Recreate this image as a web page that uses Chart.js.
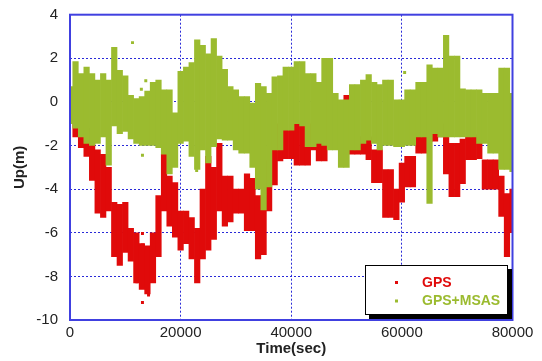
<!DOCTYPE html>
<html>
<head>
<meta charset="utf-8">
<script src="https://cdn.jsdelivr.net/npm/chart.js@4/dist/chart.umd.min.js"></script>
<style>
  html, body { margin: 0; padding: 0; background: #fff; }
  #wrap { width: 542px; height: 361px; }
</style>
</head>
<body>
<div id="wrap"><canvas id="upChart"></canvas></div>
<script>
/* ===== Up error, GPS vs GPS+MSAS ===== */
const STEP = 1000;   // sec between envelope samples (index * STEP)

// GPS+MSAS, spread of the points in each 1000 s slot (m)
const msasHigh = [0.7, 1.85, 1.3, 1.6, 1.3, 1.0, 1.3, 1.0, 2.5, 1.45,
  1.2, 0.3, 0.15, 0.25, 0.5, 0.9, 1.0, 0.55, 0.55, -0.5,
  1.4, 1.6, 1.8, 2.85, 2.6, 2.2, 2.9, 2.1, 1.5, 0.7,
  0.55, 0.25, 0.25, -0.05, 0.85, 0.7, 0.4, 1.15, 1.2, 1.6,
  1.6, 1.85, 1.85, 1.3, 1.3, 0.9, 2.0, 2.0, 0.4, 0.1,
  0.1, 0.8, 0.8, 1.0, 1.25, 0.9, 0.8, 1.0, 1.0, 0.1,
  0.1, 0.55, 0.55, 0.9, 0.9, 1.7, 1.55, 1.55, 3.05, 2.1,
  2.1, 0.6, 0.55, 0.55, 0.55, 0.4, 0.4, 0.4, 1.55, 1.55,
  0.4];
const msasLow = [-1.0, -1.2, -1.6, -1.9, -2.0, -1.9, -1.6, -2.9, -1.1, -1.45,
  -1.35, -1.7, -1.9, -2.0, -2.0, -2.0, -2.1, -2.4, -3.3, -3.0,
  -1.9, -1.8, -2.5, -3.1, -2.2, -2.8, -2.05, -1.7, -1.75, -1.75,
  -2.2, -2.35, -2.35, -3.0, -4.0, -4.95, -3.9, -2.2, -2.2, -1.3,
  -1.3, -1.0, -1.1, -2.05, -2.05, -1.9, -2.0, -2.2, -2.2, -3.0,
  -3.0, -2.2, -2.2, -1.9, -1.75, -1.9, -2.2, -2.0, -2.0, -2.05,
  -2.05, -2.0, -2.0, -1.6, -1.6, -4.65, -1.45, -1.6, -1.6, -1.6,
  -1.6, -1.6, -1.6, -1.6, -1.9, -1.9, -2.35, -2.35, -3.1, -3.1,
  -3.2];

// GPS alone
const gpsHigh = [0.3, -0.8, -1.0, -1.2, -1.4, -2.2, -2.4, -3.0, -4.6, -4.7,
  -4.6, -5.8, -6.0, -6.5, -6.6, -6.0, -4.3, -2.4, -3.4, -3.7,
  -5.0, -5.0, -5.3, -5.8, -4.0, -2.5, -3.0, -1.9, -3.4, -3.4,
  -4.0, -4.0, -3.3, -3.5, -4.3, -4.3, -2.7, -2.0, -1.0, -1.3,
  -1.3, -1.0, -1.0, -1.0, -1.1, -1.1, -1.5, -1.5, -1.5, -1.5,
  0.3, -1.6, -1.6, -1.6, -1.6, -2.2, -2.2, -3.1, -3.1, -4.0,
  -2.8, -2.5, -2.5, -1.0, -1.0, -1.0, -1.0, -1.0, -1.6, -1.9,
  -1.9, -1.7, -1.6, -1.6, -1.5, -2.65, -2.65, -2.65, -3.4, -4.2,
  -4.0];
const gpsLow = [-0.8, -1.6, -2.1, -2.5, -3.6, -5.1, -5.3, -5.0, -7.1, -7.5,
  -6.9, -7.3, -8.3, -8.6, -8.8, -8.3, -7.1, -5.0, -5.7, -6.2,
  -6.8, -6.5, -7.2, -8.3, -7.2, -6.8, -6.3, -5.0, -5.7, -5.5,
  -5.1, -5.1, -5.9, -5.9, -7.2, -7.0, -5.0, -3.8, -2.7, -2.6,
  -2.6, -2.9, -2.9, -2.9, -2.2, -2.7, -2.7, -1.9, -1.9, -2.0,
  -1.9, -2.4, -2.4, -2.4, -2.65, -3.7, -3.7, -5.3, -5.3, -5.4,
  -4.6, -3.9, -3.9, -2.35, -2.35, -1.8, -1.8, -1.6, -3.3, -4.35,
  -4.35, -3.75, -2.65, -2.65, -2.6, -4.0, -4.0, -4.0, -5.25, -7.1,
  -6.0];

// stray single fixes
const gpsStrayT  = [12100, 13100, 13100, 13100, 14200];
const gpsStrayV  = [-8.25, -6.03, -6.56, -9.2, -8.86];
const msasStrayT = [11300, 13700, 12900, 13100, 17100, 22900, 60500];
const msasStrayV = [2.72, 0.97, 0.58, -2.45, -2.3, -3.15, 1.35];

const seriesNames = ["GPS", "GPS+MSAS"];
const RED = "#e00a0a", GREEN = "#9bbb2f";

const band = (lo, hi) => lo.map((v, i) => ({ x: i * STEP, y: [v, hi[i]] }));
const pts  = (t, v) => t.map((x, i) => ({ x, y: v[i] }));

const frame = {
  id: "frame",
  afterDatasetsDraw(chart) {
    const { ctx, chartArea: a } = chart;
    ctx.save();
    ctx.strokeStyle = "#4040e0";
    ctx.lineWidth = 2;
    ctx.strokeRect(a.left, a.top, a.right - a.left, a.bottom - a.top);

    // legend box with drop shadow
    const w = 143, h = 50;
    const bx = a.right - 4.5 - w, by = a.bottom - 5 - h;
    ctx.fillStyle = "#000";
    ctx.fillRect(bx + 4, by + 4, w, h);
    ctx.fillStyle = "#fff";
    ctx.fillRect(bx, by, w, h);
    ctx.lineWidth = 1;
    ctx.strokeStyle = "#000";
    ctx.strokeRect(bx + 0.5, by + 0.5, w - 1, h - 1);

    ctx.font = "bold 14px 'Liberation Sans', Arial, sans-serif";
    ctx.textBaseline = "middle";
    [RED, GREEN].forEach((c, i) => {
      const y = by + 17.5 + i * 18.5;
      ctx.fillStyle = c;
      ctx.fillRect(bx + 30, y - 1.5, 3, 3);
      ctx.fillText(seriesNames[i], bx + 57, y + 0.5);
    });
    ctx.restore();
  }
};

const barOpts = { grouped: false, barPercentage: 1, categoryPercentage: 1, borderWidth: 0 };

new Chart(document.getElementById("upChart"), {
  type: "bar",
  data: {
    datasets: [
      { ...barOpts, label: seriesNames[0], data: band(gpsLow, gpsHigh), backgroundColor: RED, order: 3 },
      { type: "scatter", label: seriesNames[0] + " stray", data: pts(gpsStrayT, gpsStrayV),
        pointStyle: "rect", pointRadius: 2.1, backgroundColor: RED, borderWidth: 0, order: 2 },
      { ...barOpts, label: seriesNames[1], data: band(msasLow, msasHigh), backgroundColor: GREEN, order: 1 },
      { type: "scatter", label: seriesNames[1] + " stray", data: pts(msasStrayT, msasStrayV),
        pointStyle: "rect", pointRadius: 2.1, backgroundColor: GREEN, borderWidth: 0, order: 0 }
    ]
  },
  options: {
    responsive: true,
    maintainAspectRatio: false,
    animation: false,
    layout: { padding: { top: 14.7, right: 29.5, left: 0, bottom: 0 } },
    plugins: { legend: { display: false }, tooltip: { enabled: false } },
    scales: {
      x: {
        type: "linear", min: 0, max: 80000, offset: false,
        afterFit: s => { s.height = 41; s.paddingLeft = 0; s.paddingRight = 0; },
        ticks: { stepSize: 20000, padding: 4, maxRotation: 0, color: "#222",
                 callback: v => String(v),
                 font: { family: "'Liberation Sans', Arial", size: 15 } },
        grid: { color: "#2a2ad8", lineWidth: 1, drawTicks: false, offset: false },
        border: { display: false, dash: [2, 2] },
        title: { display: true, text: "Time(sec)", color: "#222", padding: { top: 0, bottom: 3 },
                 font: { family: "'Liberation Sans', Arial", size: 15, weight: "bold" } }
      },
      y: {
        min: -10, max: 4,
        afterFit: s => { s.width = 70; s.paddingTop = 0; s.paddingBottom = 0; },
        ticks: { stepSize: 2, padding: 12, color: "#222",
                 font: { family: "'Liberation Sans', Arial", size: 15 } },
        grid: { color: "#2a2ad8", lineWidth: 1, drawTicks: false },
        border: { display: false, dash: [2, 2] },
        title: { display: true, text: "Up(m)", color: "#222", padding: { top: 11, bottom: 0 },
                 font: { family: "'Liberation Sans', Arial", size: 15, weight: "bold" } }
      }
    }
  },
  plugins: [frame]
});
</script>
</body>
</html>
